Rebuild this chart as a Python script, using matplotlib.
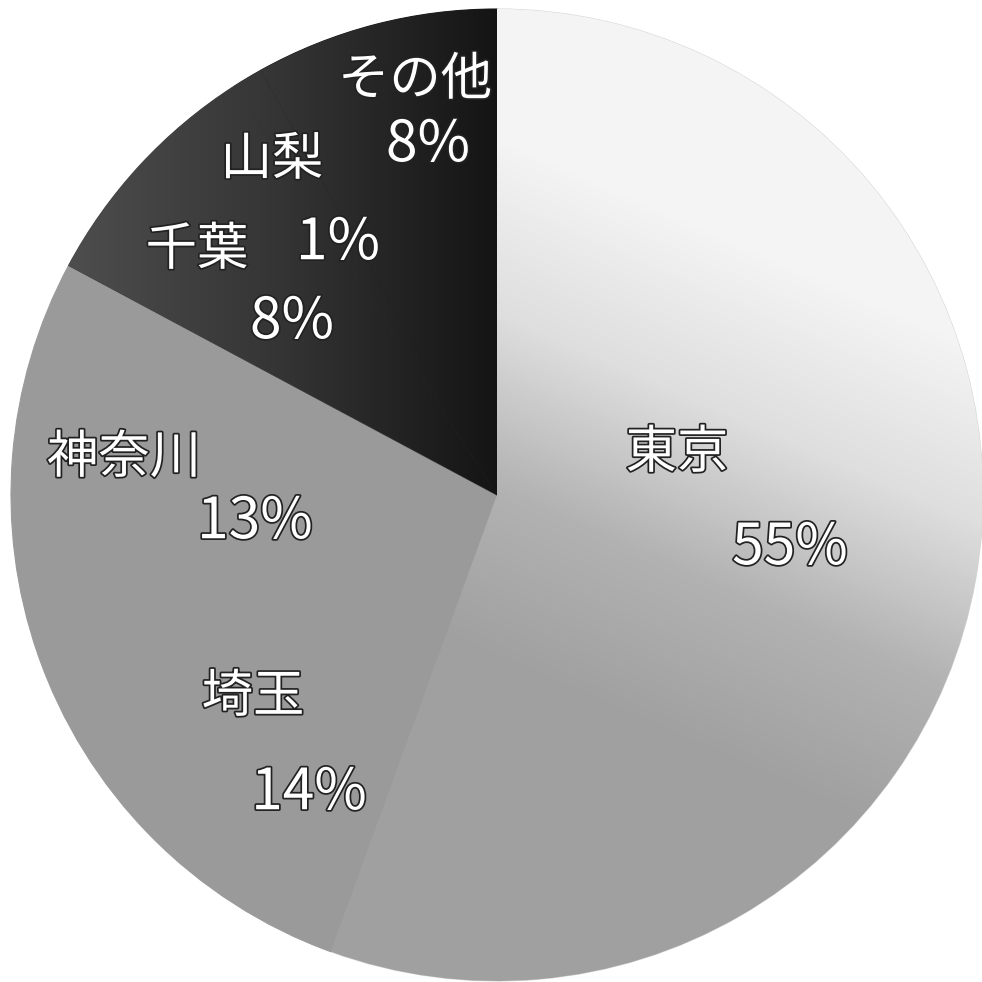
import numpy as np
import matplotlib
matplotlib.use("Agg")
import matplotlib.pyplot as plt
import matplotlib.patheffects as pe
from matplotlib.colors import LinearSegmentedColormap

plt.rcParams['font.family'] = ['Noto Sans CJK JP', 'DejaVu Sans']

# data
prefectures = ['東京', '埼玉', '神奈川', '千葉', '山梨', 'その他']
shares = [55, 14, 13, 8, 1, 8]
pct_labels = ['55%', '14%', '13%', '8%', '1%', '8%']
colors = ['#d8d8d8', '#9a9a9a', '#9a9a9a', '#454545', '#303030', '#1c1c1c']

# label positions in pixels (x, y from top), hand placed as in the reference
name_pos = [(677, 453), (253, 697), (124, 458), (197, 250), (272, 160), (415, 80)]
pct_pos = [(790, 548), (309, 793), (255, 522), (292, 322), (338, 243), (428, 145)]

W = 982
fig = plt.figure(figsize=(9.82, 9.82), dpi=100)
ax = fig.add_axes([0, 0, 1, 1])

cx, cy, r = 497, W - 495, 486
wedges, _ = ax.pie(shares, colors=colors, startangle=90, counterclock=False,
                   center=(cx, cy), radius=r, frame=True,
                   wedgeprops=dict(linewidth=0.8))
for w in wedges:
    w.set_edgecolor(w.get_facecolor())
ax.set_xlim(0, W)
ax.set_ylim(0, W)
ax.set_aspect('equal')
ax.axis('off')

# light gradient on the Tokyo slice: near white at top right, grey towards the bottom
yy, xx = np.mgrid[0:W, 0:W]
t = np.clip((yy * 0.8 + (W - xx) * 0.35 - 280) / 420.0, 0, 1)
cmap = LinearSegmentedColormap.from_list('tk', ['#f4f4f4', '#dedede', '#b2b2b2', '#a0a0a0'])
im = ax.imshow(t, cmap=cmap, extent=(0, W, 0, W), origin='upper', zorder=2,
               vmin=0, vmax=1, interpolation='bilinear')
im.set_clip_path(wedges[0])

# darker gradient across the dark slices
t2 = np.clip((xx - 80) / 420.0, 0, 1)
cmap2 = LinearSegmentedColormap.from_list('dk', ['#4c4c4c', '#333333', '#141414'])
for w in wedges[3:]:
    im2 = ax.imshow(t2, cmap=cmap2, extent=(0, W, 0, W), origin='upper', zorder=2,
                    vmin=0, vmax=1, interpolation='bilinear')
    im2.set_clip_path(w)

outline = [pe.withStroke(linewidth=2.5, foreground='#222222')]
for name, pct, (nx, ny), (px, py) in zip(prefectures, pct_labels, name_pos, pct_pos):
    ax.text(nx, W - ny, name, color='white', fontsize=37, ha='center', va='center',
            path_effects=outline, zorder=5)
    ax.text(px, W - py, pct, color='white', fontsize=41, ha='center', va='center',
            path_effects=outline, zorder=5)

fig.savefig('out.png', dpi=100, facecolor='white')
